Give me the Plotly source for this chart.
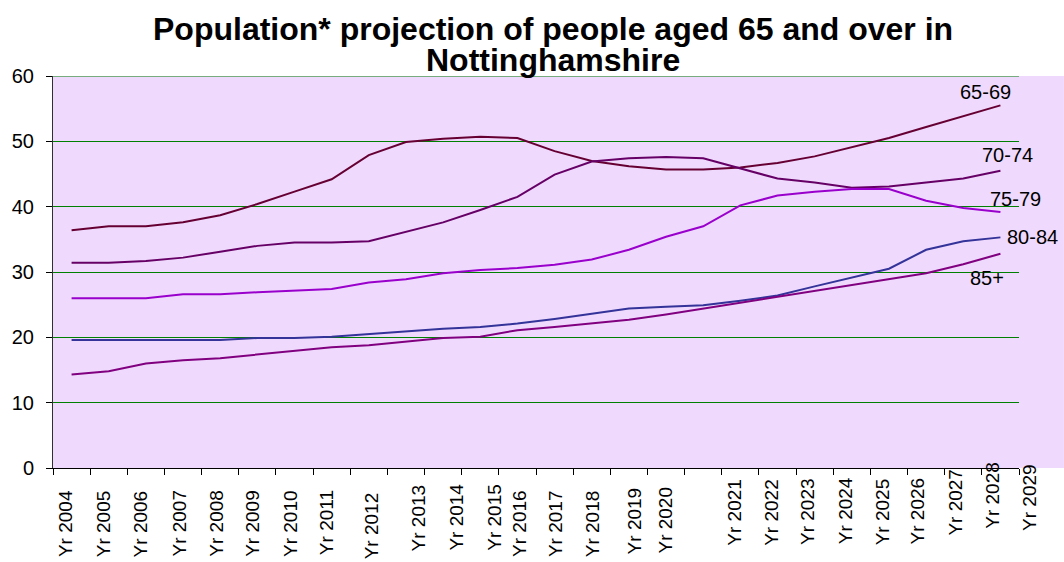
import plotly.graph_objects as go

# Projection years (category axis)
years = [f"Yr {y}" for y in range(2004, 2030)]

# Projected population (thousands) by age band
age_65_69 = [36.4, 37.0, 37.0, 37.6, 38.7, 40.4, 42.3, 44.2, 47.9, 49.9, 50.4, 50.7, 50.5,
             48.5, 47.0, 46.2, 45.7, 45.7, 46.0, 46.7, 47.7, 49.1, 50.5, 52.2, 53.9, 55.5]
age_70_74 = [31.4, 31.4, 31.7, 32.2, 33.1, 34.0, 34.5, 34.5, 34.7, 36.2, 37.6, 39.5, 41.5,
             44.9, 46.9, 47.4, 47.6, 47.4, 45.8, 44.3, 43.7, 42.9, 43.1, 43.7, 44.3, 45.5]
age_75_79 = [26.0, 26.0, 26.0, 26.6, 26.6, 26.9, 27.1, 27.4, 28.4, 28.9, 29.8, 30.3, 30.6,
             31.1, 31.9, 33.4, 35.4, 37.0, 40.2, 41.7, 42.3, 42.7, 42.7, 40.9, 39.8, 39.2]
age_80_84 = [19.6, 19.6, 19.6, 19.6, 19.6, 19.9, 19.9, 20.1, 20.5, 21.0, 21.3, 21.6, 22.1,
             22.8, 23.6, 24.4, 24.7, 24.9, 25.6, 26.4, 27.8, 29.2, 30.5, 33.4, 34.7, 35.3]
age_85_plus = [14.3, 14.8, 16.0, 16.5, 16.8, 17.4, 17.9, 18.5, 18.8, 19.3, 19.9, 20.1, 21.1,
               21.6, 22.1, 22.7, 23.5, 24.4, 25.4, 26.2, 27.2, 28.1, 28.9, 29.8, 31.2, 32.8]

FONT = "Liberation Sans, Arial, sans-serif"

# name, values, colour, label offset (px) from the last point
series = [
    ("65-69", age_65_69, "#660033", -15, 13),
    ("70-74", age_70_74, "#660066", 7, 16),
    ("75-79", age_75_79, "#9900CC", 15, 13),
    ("80-84", age_80_84, "#333399", 32, 0),
    ("85+", age_85_plus, "#800080", -13, -24),
]

# year-label placement: horizontal shift from the category centre and
# gap below the axis line (px), as the labels sit in the exported chart
label_dx = [-6, -5, -5, -4, -4, -5, -4, -5, 3, 13, 13, 14, 2, 1, 1, 6, -1,
            31, 31, 30, 31, 31, 29, 29, 29, 29]
label_gap = [20, 20, 20, 20, 20, 20, 20, 20, 22, 14, 14, 14, 20, 20, 20, 17, 17,
             9, 9, 8, 7, 8, 7, -1, -8, -6]

fig = go.Figure()
for name, vals, color, dx, dy in series:
    fig.add_trace(go.Scatter(x=years, y=vals, mode="lines", name=name,
                             line=dict(color=color, width=2), showlegend=False))
    fig.add_annotation(x=years[-1], y=vals[-1], text=name, showarrow=False,
                       xshift=dx, yshift=dy, font=dict(family=FONT, size=20, color="black"))

for yr, dx, gap in zip(years, label_dx, label_gap):
    fig.add_annotation(x=yr, y=0, yref="paper", text=yr, showarrow=False, textangle=-90,
                       xanchor="center", yanchor="top", xshift=dx, yshift=-gap,
                       font=dict(family=FONT, size=19, color="black"))

# title, two lines set close together
title_lines = ["Population* projection of people aged 65 and over in", "Nottinghamshire"]
for line, ypos in zip(title_lines, [1.1199, 1.0408]):
    fig.add_annotation(x=0.5175, y=ypos, xref="paper", yref="paper", text=f"<b>{line}</b>",
                       showarrow=False, xanchor="center", yanchor="middle",
                       font=dict(family=FONT, size=32, color="black"))

# lavender plot backdrop running to the right edge of the page
fig.add_shape(type="rect", xref="paper", yref="paper", x0=0, x1=1.0465, y0=0, y1=1,
              fillcolor="#EFDAFD", line=dict(width=0), layer="below")
# top gridline at 60
fig.add_shape(type="line", xref="paper", yref="y", x0=0, x1=1, y0=60, y1=60,
              line=dict(color="#008000", width=1), layer="below")

fig.update_layout(
    width=1064, height=562,
    margin=dict(l=47, r=45, t=76, b=94),
    paper_bgcolor="white",
    plot_bgcolor="#EFDAFD",
    font=dict(family=FONT, size=20, color="black"),
)
fig.update_xaxes(type="category", range=[-0.5, len(years) - 0.5], tickson="boundaries",
                 ticks="outside", ticklen=6, tickcolor="black", showline=True,
                 linecolor="black", linewidth=1, showgrid=False, showticklabels=False)
fig.update_yaxes(range=[0, 60], dtick=10, ticks="outside", ticklen=6, tickcolor="black",
                 showline=True, linecolor="#303030", linewidth=1, ticklabelstandoff=8,
                 gridcolor="#008000", gridwidth=1, zeroline=False,
                 tickfont=dict(size=20))

fig.write_html("out.html")
